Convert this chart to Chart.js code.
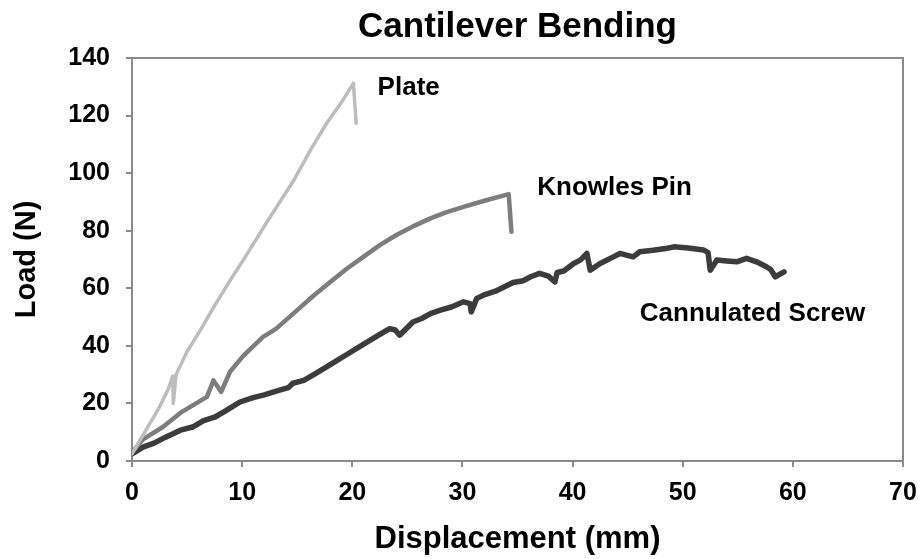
<!DOCTYPE html>
<html>
<head>
<meta charset="utf-8">
<script src="https://cdn.jsdelivr.net/npm/chart.js@4.4.1/dist/chart.umd.min.js"></script>
<style>
	html, body { margin: 0; padding: 0; background: #fff; }
	#wrap { width: 920px; height: 559px; }
</style>
</head>
<body>
<div id="wrap"><canvas id="BendingChart" width="920" height="559"></canvas></div>
<script>

// DATA

const plateX = [0, 1, 2, 2.5, 3.3, 3.7, 3.75, 4.0, 5, 6.2, 7.5, 8.9, 10.1, 12.5, 14.7, 16.2, 17.7, 19, 20.1, 20.35];
const plateY = [2.5, 9, 15.5, 18.8, 25, 29.5, 20, 30, 38, 45.4, 54, 62.7, 69.8, 84.5, 97.6, 108, 117.5, 124.5, 131.2, 117.3];

const pinX = [0, 1, 2.8, 4.5, 6.8, 7.4, 8.1, 8.9, 10.1, 11.9, 13.1, 15, 16.5, 18, 19.5, 21, 22.5, 24, 25.5, 27.1, 28.5, 30.1, 32, 34.2, 34.45];
const pinY = [3, 7.5, 11.8, 17, 22.3, 28, 24, 31, 36.5, 43.1, 46, 52.4, 57.5, 62.2, 66.8, 70.9, 75, 78.5, 81.5, 84.3, 86.4, 88.3, 90.4, 92.7, 79.6];

const screwX = [0, 1, 2, 3, 4.4, 5.5, 6.5, 7.5, 8.5, 9.8, 11, 12, 13.4, 14.2, 14.6, 15.6, 16.5, 18, 19.5, 21, 22.5, 23.4, 23.9, 24.3, 25.5, 26.3, 27.1, 28, 29, 30.1, 30.7, 30.8, 31.3, 31.9, 33, 34.6, 35.5, 36.2, 37, 37.8, 38.4, 38.6, 39.2, 40.1, 40.7, 41.3, 41.6, 42.5, 43.7, 44.3, 45.5, 46.1, 47.3, 48.6, 49.2, 50.5, 51.9, 52.3, 52.5, 53.1, 54, 54.9, 55.8, 56.7, 57.6, 58, 58.4, 59.2];
const screwY = [2.5, 4.8, 6.2, 8.2, 10.7, 11.8, 14, 15.2, 17.4, 20.5, 22, 23, 24.6, 25.5, 27, 28, 30, 33.5, 37, 40.5, 44, 46, 45.5, 43.7, 48.3, 49.5, 51.2, 52.4, 53.5, 55.3, 54.7, 51.8, 56.5, 57.6, 59, 62, 62.6, 64, 65.2, 64.2, 62.2, 65.5, 66, 68.6, 69.8, 72.1, 66.3, 68.6, 70.9, 72.1, 70.9, 72.7, 73.2, 73.9, 74.4, 74, 73.3, 72.4, 66.3, 69.8, 69.5, 69.2, 70.4, 69.2, 67.5, 66.5, 64, 65.7];

const xTicks = [0, 10, 20, 30, 40, 50, 60, 70];
const yTicks = [0, 20, 40, 60, 80, 100, 120, 140];

const seriesNames = ["Plate", "Knowles Pin", "Cannulated Screw"];
const labelX = [22.3, 36.8, 46.1];
const labelY = [129.8, 95.0, 51.0];



const FONT = "'Liberation Sans', Arial, sans-serif";
const AXIS_GRAY = "#8a8a8a";

function toPoints(xs, ys) {
	return xs.map((x, i) => ({ x: x, y: ys[i] }));
}

function makeSeries(name, xs, ys, color, width) {
	return {
		label: name,
		data: toPoints(xs, ys),
		showLine: true,
		pointRadius: 0,
		borderColor: color,
		borderWidth: width,
		borderJoinStyle: "round",
		borderCapStyle: "round",
		tension: 0,
	};
}

// frame round the plot area + the line labels
const framePlugin = {
	id: "frame",
	afterDatasetsDraw(chart) {
		const { ctx, chartArea, scales } = chart;
		ctx.save();
		ctx.strokeStyle = AXIS_GRAY;
		ctx.lineWidth = 2;
		ctx.beginPath();
		ctx.moveTo(chartArea.left, chartArea.top);
		ctx.lineTo(chartArea.right, chartArea.top);
		ctx.lineTo(chartArea.right, chartArea.bottom);
		ctx.stroke();

		ctx.fillStyle = "#000";
		ctx.font = "bold 26px " + FONT;
		ctx.textAlign = "left";
		ctx.textBaseline = "middle";
		for (let i = 0; i < seriesNames.length; i++) {
			ctx.fillText(
				seriesNames[i],
				scales.x.getPixelForValue(labelX[i]),
				scales.y.getPixelForValue(labelY[i])
			);
		}
		ctx.restore();
	},
};

const axisCommon = {
	grid: {
		drawOnChartArea: false,
		drawTicks: true,
		tickLength: 6,
		color: AXIS_GRAY,
		lineWidth: 2,
	},
	border: {
		color: AXIS_GRAY,
		width: 2,
	},
};

const options = {
	animation: false,
	responsive: false,
	layout: {
		padding: { top: 0, right: 17, bottom: 0, left: 0 },
	},
	plugins: {
		legend: { display: false },
		tooltip: { enabled: false },
		title: {
			display: true,
			fullSize: false,
			text: "Cantilever Bending",
			color: "#000",
			font: { family: FONT, size: 35, weight: "bold" },
			padding: { top: 6, bottom: 10 },
		},
	},
	scales: {
		x: {
			...axisCommon,
			type: "linear",
			min: 0,
			max: 70,
			afterBuildTicks: (axis) => { axis.ticks = xTicks.map((v) => ({ value: v })); },
			afterFit: (axis) => {
				axis.height = 98;
				axis.paddingLeft = 0;
				axis.paddingRight = 0;
			},
			ticks: {
				color: "#000",
				padding: 11,
				maxRotation: 0,
				font: { family: FONT, size: 25, weight: "bold" },
			},
			title: {
				display: true,
				text: "Displacement (mm)",
				color: "#000",
				font: { family: FONT, size: 31, weight: "bold" },
				padding: { top: 0, bottom: 1 },
			},
		},
		y: {
			...axisCommon,
			type: "linear",
			min: 0,
			max: 140,
			afterBuildTicks: (axis) => { axis.ticks = yTicks.map((v) => ({ value: v })); },
			afterFit: (axis) => {
				axis.width = 132;
				axis.paddingTop = 0;
				axis.paddingBottom = 0;
			},
			ticks: {
				color: "#000",
				padding: 16,
				font: { family: FONT, size: 25, weight: "bold" },
			},
			title: {
				display: true,
				text: "Load (N)",
				color: "#000",
				font: { family: FONT, size: 29, weight: "bold" },
				padding: { top: 10, bottom: 0 },
			},
		},
	},
};

new Chart(document.getElementById("BendingChart"), {
	type: "scatter",
	options: options,
	plugins: [framePlugin],
	data: {
		datasets: [
			makeSeries(seriesNames[0], plateX, plateY, "#bdbdbd", 3.5),
			makeSeries(seriesNames[1], pinX, pinY, "#7d7d7d", 4.5),
			makeSeries(seriesNames[2], screwX, screwY, "#3c3c3c", 5.5),
		],
	},
});

</script>
</body>
</html>
